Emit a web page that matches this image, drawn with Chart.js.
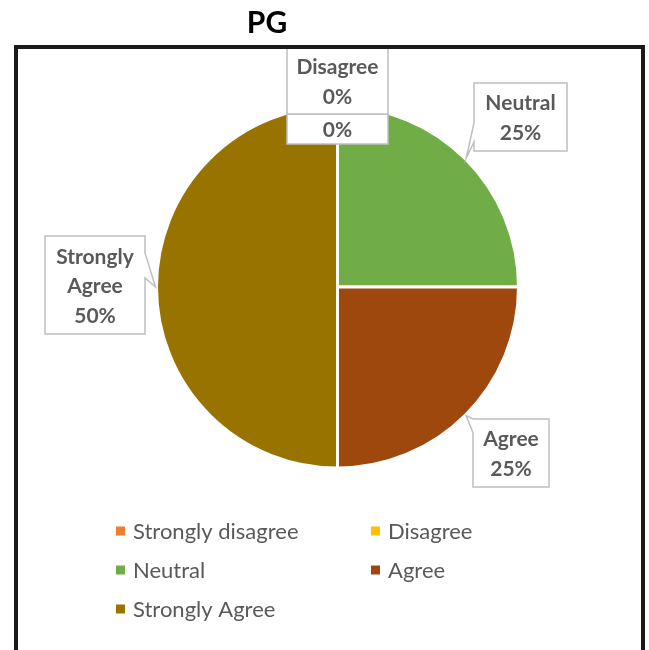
<!DOCTYPE html>
<html>
<head>
<meta charset="utf-8">
<script src="https://cdn.jsdelivr.net/npm/chart.js@4.4.1/dist/chart.umd.min.js"></script>
<style>
  body { margin: 0; background: #fff; }
  canvas { display: block; }
</style>
</head>
<body>
<canvas id="myChart" width="649" height="650"></canvas>
<script>
const chartTitle = 'PG';
const categories = ['Strongly disagree', 'Disagree', 'Neutral', 'Agree', 'Strongly Agree'];
const shares = [0, 0, 25, 25, 50];
const sliceColors = ['#ED7D31', '#FFC000', '#70AD47', '#9E480E', '#997300'];
// strongly disagree callout only shows its percentage
const showName = [false, true, true, true, true];

const FONT = 'Lato, "Open Sans", sans-serif';
const TEXT_GREY = '#595959';

// callout boxes (x, y, w, h) and where the pointer leaves the box
const callouts = [
    { x: 287, y: 114, w: 101, h: 30, tail: null },
    { x: 287, y: 48, w: 101, h: 66, tail: null },
    { x: 474, y: 83, w: 93, h: 68, tail: { side: 'left', from: 40, to: 59 } },
    { x: 473, y: 419, w: 76, h: 68, tail: { side: 'left', from: 0, to: 14 } },
    { x: 45, y: 236, w: 100, h: 98, tail: { side: 'right', from: 17, to: 42 } }
];

function calloutLines(i) {
    const total = shares.reduce((a, b) => a + b, 0);
    const pct = Math.round(shares[i] / total * 100) + '%';
    if (!showName[i]) return [pct];
    return categories[i].split(' ').concat([pct]);
}

const extras = {
    id: 'extras',
    afterDraw(chart) {
        const ctx = chart.ctx;
        const arcs = chart.getDatasetMeta(0).data;
        ctx.save();

        // title
        ctx.fillStyle = '#000';
        ctx.font = 'bold 30px ' + FONT;
        ctx.textAlign = 'center';
        ctx.textBaseline = 'alphabetic';
        ctx.fillText(chartTitle, 267, 33);

        // callouts
        ctx.lineWidth = 1.5;
        ctx.strokeStyle = '#BFBFBF';
        ctx.lineJoin = 'miter';
        callouts.forEach((c, i) => {
            const a = arcs[i];
            const mid = (a.startAngle + a.endAngle) / 2;
            const tipX = a.x + Math.cos(mid) * (a.outerRadius + 1);
            const tipY = a.y + Math.sin(mid) * (a.outerRadius + 1);

            ctx.beginPath();
            ctx.moveTo(c.x, c.y);
            ctx.lineTo(c.x + c.w, c.y);
            if (c.tail && c.tail.side === 'right') {
                ctx.lineTo(c.x + c.w, c.y + c.tail.from);
                ctx.lineTo(tipX, tipY);
                ctx.lineTo(c.x + c.w, c.y + c.tail.to);
            }
            ctx.lineTo(c.x + c.w, c.y + c.h);
            ctx.lineTo(c.x, c.y + c.h);
            if (c.tail && c.tail.side === 'left') {
                ctx.lineTo(c.x, c.y + c.tail.to);
                ctx.lineTo(tipX, tipY);
                ctx.lineTo(c.x, c.y + c.tail.from);
            }
            ctx.closePath();
            ctx.fillStyle = '#fff';
            ctx.fill();
            ctx.stroke();

            const lines = calloutLines(i);
            const lh = 29.5;
            const cy = c.y + c.h / 2;
            ctx.fillStyle = TEXT_GREY;
            ctx.font = 'bold 21px ' + FONT;
            ctx.textAlign = 'center';
            lines.forEach((t, k) => {
                ctx.fillText(t, c.x + c.w / 2, cy - (lines.length - 1) / 2 * lh + lh * k + 8);
            });
        });

        // frame
        ctx.strokeStyle = '#1A1A1A';
        ctx.lineWidth = 4;
        ctx.strokeRect(16, 47, 627, 640);

        // legend, two columns
        const colX = [116, 371];
        const rowY = [531, 570, 609];
        ctx.font = '22px ' + FONT;
        ctx.textAlign = 'left';
        ctx.textBaseline = 'middle';
        categories.forEach((name, i) => {
            const x = colX[i % 2];
            const y = rowY[Math.floor(i / 2)];
            ctx.fillStyle = sliceColors[i];
            ctx.fillRect(x, y - 4.5, 9, 9);
            ctx.fillStyle = TEXT_GREY;
            ctx.fillText(name, x + 17, y + 1);
        });

        ctx.restore();
    }
};

new Chart(document.getElementById('myChart'), {
    type: 'pie',
    data: {
        labels: categories,
        datasets: [{
            data: shares,
            backgroundColor: sliceColors,
            borderColor: '#fff',
            borderWidth: 3
        }]
    },
    options: {
        responsive: false,
        devicePixelRatio: 1,
        animation: false,
        layout: {
            padding: { left: 155, right: 129, top: 104, bottom: 180 }
        },
        plugins: {
            legend: { display: false },
            title: { display: false },
            tooltip: { enabled: false }
        }
    },
    plugins: [extras]
});
</script>
</body>
</html>
